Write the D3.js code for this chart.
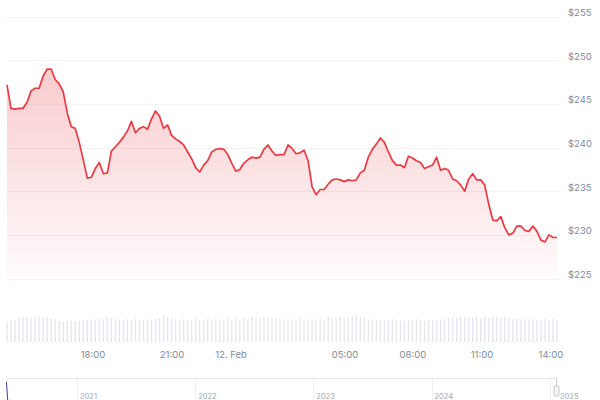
<!DOCTYPE html>
<meta charset="utf-8">
<style>
  body { margin: 0; background: #fff; }
  text { font-family: Inter, "Noto Sans", sans-serif; }
</style>
<script src="https://d3js.org/d3.v7.min.js"></script>
<div id="chart"></div>
<script>

  // price, sampled evenly along the ordinal (trading) axis
  var prices = [
    247.2, 244.5, 244.4, 244.5, 244.5, 245.2, 246.5, 246.8, 246.8, 248.2,
    249.0, 249.0, 247.8, 247.3, 246.4, 244.0, 242.4, 242.2, 240.6, 238.6,
    236.5, 236.6, 237.6, 238.3, 237.0, 237.1, 239.6, 240.1, 240.6, 241.2,
    241.9, 243.0, 241.7, 242.2, 242.4, 242.1, 243.3, 244.2, 243.6, 242.2,
    242.6, 241.4, 241.0, 240.7, 240.3, 239.5, 238.7, 237.7, 237.2, 238.0,
    238.5, 239.5, 239.8, 239.9, 239.8, 239.2, 238.2, 237.3, 237.5, 238.2,
    238.6, 238.9, 238.8, 238.9, 239.8, 240.3, 239.6, 239.1, 239.2, 239.2,
    240.3, 239.9, 239.3, 239.4, 239.7, 238.5, 235.5, 234.6, 235.2, 235.2,
    235.8, 236.3, 236.4, 236.3, 236.1, 236.3, 236.2, 236.3, 237.1, 237.4,
    238.9, 239.8, 240.4, 241.1, 240.6, 239.5, 238.5, 238.0, 238.0, 237.7,
    239.0, 238.8, 238.5, 238.3, 237.6, 237.8, 238.0, 238.9, 237.4, 237.6,
    237.4, 236.4, 236.2, 235.7, 235.0, 236.4, 237.0, 236.3, 236.3, 235.7,
    233.5, 231.7, 231.6, 232.1, 230.8, 230.0, 230.2, 231.0, 231.0, 230.5,
    230.4, 231.0, 230.4, 229.4, 229.2, 230.0, 229.7, 229.7
  ]

  var volumes = [
    20, 21, 22, 24, 25, 25, 24, 25, 26, 24, 25, 24, 23, 21, 20, 21, 21, 20, 21,
    22, 22, 23, 22, 24, 23, 25, 24, 23, 22, 22, 23, 22, 23, 22, 22, 23, 22,
    23, 24, 27, 25, 24, 23, 22, 23, 22, 22, 23, 22, 22, 23, 22, 23, 22, 22,
    23, 22, 23, 22, 24, 23, 25, 24, 23, 25, 24, 23, 24, 23, 22, 23, 22, 22,
    23, 22, 22, 23, 22, 23, 22, 25, 23, 24, 25, 23, 24, 26, 27, 25, 24, 22,
    23, 22, 22, 21, 22, 23, 22, 22, 21, 22, 22, 23, 22, 21, 22, 22, 21, 22,
    23, 24, 25, 24, 26, 25, 24, 25, 26, 24, 25, 24, 25, 26, 24, 25, 24, 23,
    23, 22, 23, 22, 23, 22, 22, 23, 22, 23, 22
  ]

  var yTicks = [225, 230, 235, 240, 245, 250, 255]

  var xTickLabels = ["18:00", "21:00", "12. Feb", "05:00", "08:00", "11:00", "14:00"]
  var xTickIndex = [21.4, 41.1, 55.8, 84.2, 101.1, 118.3, 135.5]

  var navYears = ["2021", "2022", "2023", "2024", "2025"]
  var navDates = ["2020-05-28", "2020-06-01"]
  var navValues = [250, 0]

  var width = 600
      height = 400

  var svg = d3.select("#chart")
    .append("svg")
      .attr("width", width)
      .attr("height", height)

  var x = d3.scaleLinear()
    .domain([0, prices.length - 1])
    .range([7, 557])

  var y = d3.scaleLinear()
    .domain([225, 255])
    .range([278.5, 16.7])

  var yVol = d3.scaleLinear()
    .domain([0, 30])
    .range([342, 312])

  // gradient under the line
  var grad = svg.append("defs").append("linearGradient")
    .attr("id", "fill")
    .attr("gradientUnits", "userSpaceOnUse")
    .attr("x1", 0).attr("x2", 0)
    .attr("y1", y(249)).attr("y2", y(225))
  grad.append("stop").attr("offset", 0).attr("stop-color", "#ea3943").attr("stop-opacity", 0.26)
  grad.append("stop").attr("offset", 1).attr("stop-color", "#ea3943").attr("stop-opacity", 0.02)

  // grid + y labels
  svg.selectAll("gridY")
    .data(yTicks)
    .enter()
    .append("line")
      .attr("x1", 7)
      .attr("x2", 560)
      .attr("y1", function(d) { return Math.round(y(d)) + 0.5 })
      .attr("y2", function(d) { return Math.round(y(d)) + 0.5 })
      .attr("stroke", "#f1f2f4")

  svg.selectAll("labelY")
    .data(yTicks)
    .enter()
    .append("text")
      .attr("x", 568)
      .attr("y", function(d) { return y(d) - 0.5 })
      .attr("font-size", 9.5)
      .attr("fill", "#808a9d")
      .text(function(d) { return "$" + d })

  // volume
  svg.selectAll("vol")
    .data(volumes)
    .enter()
    .append("rect")
      .attr("x", function(d, i) { return x(i) - 0.7 })
      .attr("width", 1.4)
      .attr("y", function(d) { return yVol(d) })
      .attr("height", function(d) { return yVol(0) - yVol(d) })
      .attr("fill", "#e4e8ee")

  // price area and line
  var area = d3.area()
    .x(function(d, i) { return x(i) })
    .y0(y(225))
    .y1(function(d) { return y(d) })

  var line = d3.line()
    .x(function(d, i) { return x(i) })
    .y(function(d) { return y(d) })

  svg.append("path")
    .datum(prices)
    .attr("d", area)
    .attr("fill", "url(#fill)")

  svg.append("path")
    .datum(prices)
    .attr("d", line)
    .attr("fill", "none")
    .attr("stroke", "#ea3943")
    .attr("stroke-width", 1.7)
    .attr("stroke-linejoin", "round")

  // x labels
  svg.selectAll("labelX")
    .data(xTickIndex)
    .enter()
    .append("text")
      .attr("x", function(d) { return x(d) })
      .attr("y", 358)
      .attr("text-anchor", "middle")
      .attr("font-size", 9.5)
      .attr("fill", "#808a9d")
      .text(function(d, i) { return xTickLabels[i] })

  // navigator
  var parse = d3.timeParse("%Y-%m-%d")
  var xNav = d3.scaleTime()
    .domain([parse("2021-01-01"), parse("2025-01-01")])
    .range([77, 550])
  var yNav = d3.scaleLinear()
    .domain([0, 300])
    .range([400, 378])

  svg.append("line")
    .attr("x1", 7).attr("x2", 557)
    .attr("y1", 378.5).attr("y2", 378.5)
    .attr("stroke", "#e3e6ec")

  svg.selectAll("navGrid")
    .data(navYears)
    .enter()
    .append("line")
      .attr("x1", function(d) { return Math.round(xNav(parse(d + "-01-01"))) + 0.5 })
      .attr("x2", function(d) { return Math.round(xNav(parse(d + "-01-01"))) + 0.5 })
      .attr("y1", 379)
      .attr("y2", 400)
      .attr("stroke", "#eceef2")

  svg.selectAll("navLabel")
    .data(navYears.slice(0, 4))
    .enter()
    .append("text")
      .attr("x", function(d) { return xNav(parse(d + "-01-01")) + 3 })
      .attr("y", 398.5)
      .attr("font-size", 7.5)
      .attr("fill", "#a0a7b5")
      .text(function(d) { return d })

  svg.append("text")
    .attr("x", xNav(parse("2025-01-01")) + 10)
    .attr("y", 398.5)
    .attr("font-size", 7.5)
    .attr("fill", "#a0a7b5")
    .text(navYears[4])

  svg.append("path")
    .datum(navDates)
    .attr("d", d3.line()
      .x(function(d) { return xNav(parse(d)) })
      .y(function(d, i) { return yNav(navValues[i]) }))
    .attr("stroke", "#2c4a8a")
    .attr("stroke-width", 1)
    .attr("fill", "none")

  // right handle of the navigator
  svg.append("line")
    .attr("x1", 556.5).attr("x2", 556.5)
    .attr("y1", 378).attr("y2", 396)
    .attr("stroke", "#c9ced8")
  svg.append("rect")
    .attr("x", 554).attr("y", 386)
    .attr("width", 5).attr("height", 10)
    .attr("rx", 1)
    .attr("fill", "#f4f5f7")
    .attr("stroke", "#b8bec9")
    .attr("stroke-width", 0.8)

</script>
